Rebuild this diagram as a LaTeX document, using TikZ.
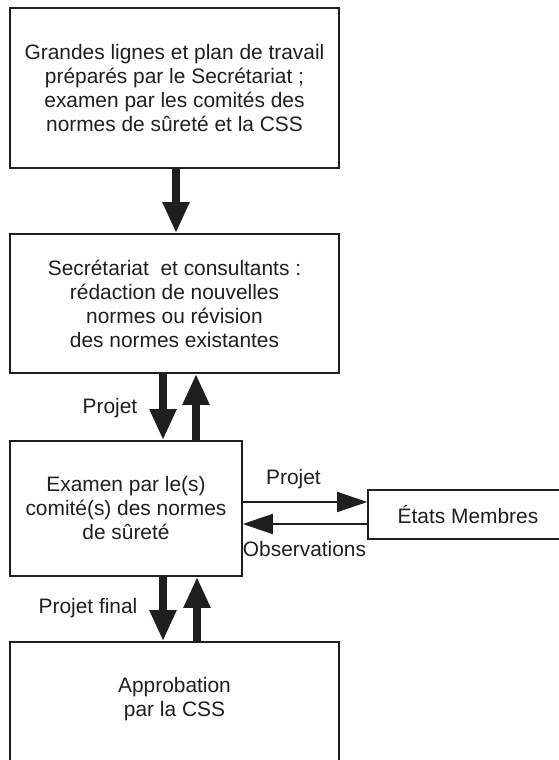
\documentclass[tikz,border=0pt]{standalone}
\usepackage{fontspec}
\setmainfont{Liberation Sans}
\usepackage{tikz}
\usetikzlibrary{arrows.meta}

\definecolor{ink}{gray}{0.12}
\tikzset{
    box/.style={draw=ink, line width=1.6pt, text=ink, align=center, inner sep=0pt,
        font=\fontsize{20.9}{24}\selectfont},
    lbl/.style={text=ink, align=center, inner sep=0pt, font=\fontsize{20.9}{24}\selectfont},
    bigarrow/.style={draw=ink, line width=8pt, -{Triangle[length=31pt,width=25pt]}},
    thinarrow/.style={draw=ink, line width=1.6pt, -{Triangle[length=30pt,width=20pt]}}
}

\begin{document}
\begin{tikzpicture}[x=1pt, y=-1pt]
            \useasboundingbox (0,0) rectangle (558,760);

            % Define the widths of the boxes
            \def\wide{329}  % width of the long boxes
            \def\narrow{232}  % width of the review box

            % Columns and rows of the connectors
            \coordinate (xa) at (176, 0);
            \coordinate (xd) at (163, 0);
            \coordinate (xu) at (196, 0);
            \coordinate (xf) at (197, 0);
            \coordinate (yp) at (0, 502);
            \coordinate (yo) at (0, 524);

            % Draw the boxes
            \node[box, minimum width=\wide pt, minimum height=160pt] (plan) at (174.5, 88)
                {Grandes lignes et plan de travail\\préparés par le Secrétariat ;\\examen par les comités des\\normes de sûreté et la CSS};
            \node[box, minimum width=\wide pt, minimum height=139pt] (redac) at (174.5, 303.5)
                {Secrétariat~ et consultants :\\rédaction de nouvelles\\normes ou révision\\des normes existantes};
            \node[box, minimum width=\narrow pt, minimum height=135pt] (examen) at (126, 508.5)
                {Examen par le(s)\\comité(s) des normes\\de sûreté};
            \node[box, minimum width=200pt, minimum height=49pt] (etats) at (468, 514.5)
                {États Membres};
            \node[box, minimum width=\wide pt, minimum height=123pt] (approb) at (174.5, 703.5) {};
            \node[lbl] (approbtxt) at (174.5, 699.5) {Approbation\\par la CSS};

            % Draw the thick arrows
            \draw[bigarrow] (plan.south -| xa) -- (redac.north -| xa);
            \draw[bigarrow] (redac.south -| xd) -- (examen.north -| xd);
            \draw[bigarrow] (examen.north -| xu) -- (redac.south -| xu);
            \draw[bigarrow] (examen.south -| xd) -- (approb.north -| xd);
            \draw[bigarrow] (approb.north -| xf) -- (examen.south -| xf);

            % Draw the thin arrows
            \draw[thinarrow] (examen.east |- yp) -- (etats.west |- yp);
            \draw[thinarrow] (etats.west |- yo) -- (examen.east |- yo);

            % Draw the labels
            \node[lbl] (projet1) at (110, 408) {Projet};
            \node[lbl] (projet2) at (293.5, 479) {Projet};
            \node[lbl] (observ) at (304.5, 549) {Observations};
            \node[lbl] (final) at (88, 608) {Projet final};
\end{tikzpicture}
\end{document}
